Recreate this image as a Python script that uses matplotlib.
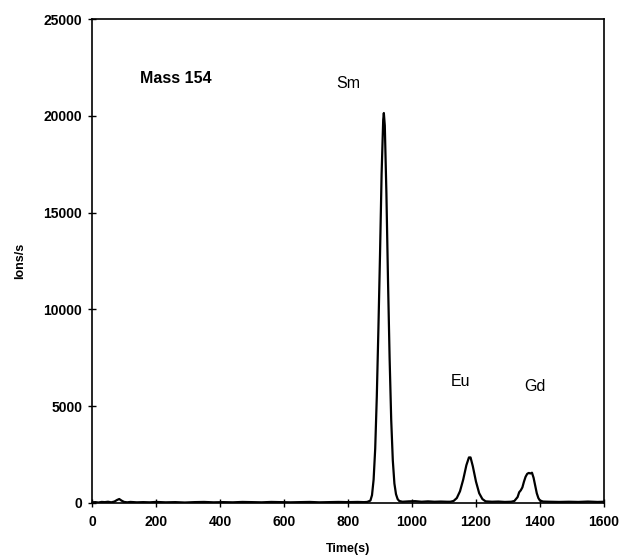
import matplotlib
matplotlib.use("Agg")
import matplotlib.pyplot as plt

plt.rcParams['font.family'] = ['Liberation Sans', 'DejaVu Sans']

# Trace (time in s, signal in ions/s)
time_s = [0, 10, 20, 30, 40, 50, 60, 70, 78, 85, 92, 100, 110, 120, 140, 160, 180, 200,
          230, 260, 290, 320, 350, 380, 410, 440, 470, 500, 530, 560, 590, 620,
          650, 680, 710, 740, 770, 800, 830, 850, 860, 870, 875, 880, 885, 890,
          895, 900, 905, 910, 912, 915, 920, 925, 930, 935, 940, 945, 950, 955,
          960, 970, 990, 1010, 1030, 1050, 1070, 1090, 1110, 1120, 1130, 1140,
          1150, 1160, 1170, 1178, 1183, 1190, 1200, 1210, 1220, 1230, 1250, 1270,
          1290, 1310, 1320, 1330, 1335, 1340, 1345, 1350, 1355, 1360, 1365, 1370,
          1375, 1380, 1385, 1390, 1395, 1400, 1410, 1430, 1460, 1490, 1520, 1550,
          1580, 1600]
ions_s = [30, 40, 20, 50, 40, 60, 30, 70, 150, 200, 120, 50, 30, 50, 30, 40, 30, 50,
          30, 40, 20, 40, 50, 30, 40, 30, 50, 40, 30, 50, 40, 30,
          40, 50, 30, 40, 50, 40, 50, 40, 50, 120, 400, 1200, 2800, 5500,
          9000, 12800, 17000, 19800, 20150, 19500, 16000, 11500, 7500, 4300, 2200, 1000, 450, 200,
          100, 60, 80, 90, 60, 80, 60, 70, 60, 60, 100, 250,
          600, 1200, 1950, 2350, 2350, 1900, 1100, 500, 200, 80, 60, 70,
          50, 60, 100, 300, 550, 650, 800, 1100, 1350, 1500, 1550, 1520,
          1560, 1300, 900, 500, 250, 120, 70, 60, 50, 60, 50, 70,
          50, 60]

x_ticks = [0, 200, 400, 600, 800, 1000, 1200, 1400, 1600]
y_ticks = [0, 5000, 10000, 15000, 20000, 25000]

annotations = [("Mass 154", 150, 21950, 'bold'),
               ("Sm", 763, 21700, 'normal'),
               ("Eu", 1122, 6300, 'normal'),
               ("Gd", 1350, 6000, 'normal')]

fig = plt.figure(figsize=(6.22, 5.56), dpi=100)
ax = fig.add_axes([0.148, 0.0955, 0.823, 0.870])
ax.plot(time_s, ions_s, color='black', lw=1.6)
ax.set_xlim(0, 1600)
ax.set_ylim(0, 25000)
ax.set_xticks(x_ticks)
ax.set_yticks(y_ticks)
ax.tick_params(direction='inout', length=6, width=1, labelsize=10, pad=4)
ax.tick_params(axis='x', pad=6)
for lbl in ax.get_xticklabels() + ax.get_yticklabels():
    lbl.set_fontweight('bold')
for s in ax.spines.values():
    s.set_linewidth(1.2)
ax.set_xlabel("Time(s)", fontsize=9, fontweight='bold', va='center')
ax.set_ylabel("Ions/s", fontsize=9, fontweight='bold', va='center')
ax.xaxis.set_label_coords(0.5, -0.095)
ax.yaxis.set_label_coords(-0.141, 0.5)
for txt, x, y, w in annotations:
    ax.text(x, y, txt, fontsize=11.5, fontweight=w, ha='left', va='center')

fig.savefig("out.png", dpi=100)
